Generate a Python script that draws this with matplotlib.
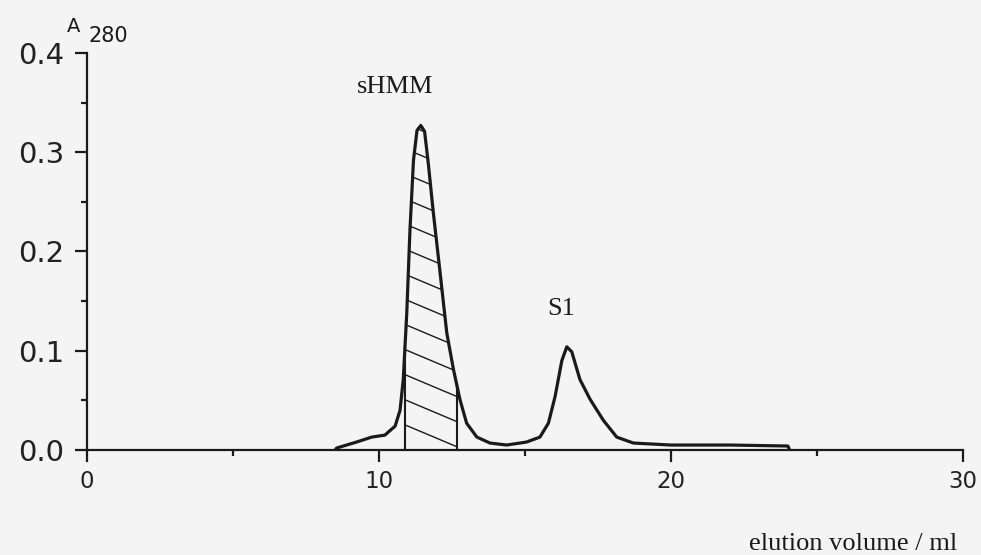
import numpy as np
import matplotlib
matplotlib.use("Agg")
import matplotlib.pyplot as plt
from matplotlib.ticker import MultipleLocator

# elution profile (ml, A280)
volume = [8.5, 8.55, 9.23, 9.75, 10.2, 10.55, 10.72, 10.83, 10.95, 11.06, 11.18,
          11.3, 11.43, 11.56, 11.69, 11.86, 12.09, 12.32, 12.55, 12.77, 13.0,
          13.35, 13.8, 14.37, 15.05, 15.51, 15.8, 16.03, 16.26, 16.43, 16.6,
          16.88, 17.23, 17.68, 18.14, 18.71, 20.0, 22.0, 24.0, 24.05]
a280 = [0.0, 0.002, 0.008, 0.013, 0.015, 0.024, 0.040, 0.071, 0.138, 0.222, 0.292,
        0.322, 0.327, 0.321, 0.288, 0.239, 0.179, 0.118, 0.081, 0.051, 0.027,
        0.013, 0.007, 0.005, 0.008, 0.013, 0.027, 0.054, 0.090, 0.104, 0.099,
        0.071, 0.051, 0.030, 0.013, 0.007, 0.005, 0.005, 0.004, 0.001]

# pooled sHMM fraction
pool_start = 10.89
pool_end = 12.66

x_ticks = [0, 10, 20, 30]
y_ticks = [0.0, 0.1, 0.2, 0.3, 0.4]

bg = "#f4f4f4"
ink = "#1a1a1a"
sans = "DejaVu Sans"
serif = "Liberation Serif"

fig = plt.figure(figsize=(9.81, 5.55), dpi=100, facecolor=bg)
ax = fig.add_axes([0.0887, 0.1892, 0.8930, 0.7153], facecolor=bg)

ax.plot(volume, a280, color=ink, lw=2.3, solid_joinstyle="round",
        solid_capstyle="round", zorder=3)

# hatched pool area, hatch lines clipped to the area under the curve
xs = np.linspace(pool_start, pool_end, 200)
ys = np.interp(xs, volume, a280)
poly = ax.fill_between(xs, 0, ys, facecolor="none", edgecolor="none")
clip = poly.get_paths()[0]
slope = -0.0124
for c in np.arange(0.0, 0.40, 0.0253):
    ln, = ax.plot([pool_start - 0.2, pool_end + 0.2],
                  [c + slope * (-0.2), c + slope * (pool_end - pool_start + 0.2)],
                  color=ink, lw=1.0, zorder=2)
    ln.set_clip_path(clip, ax.transData)
ax.vlines([pool_start, pool_end], 0, np.interp([pool_start, pool_end], volume, a280),
          color=ink, lw=1.5, zorder=2)

ax.set_xlim(0, 30)
ax.set_ylim(0, 0.4)
for s in ["top", "right"]:
    ax.spines[s].set_visible(False)
for s in ["left", "bottom"]:
    ax.spines[s].set_linewidth(1.6)
    ax.spines[s].set_color(ink)

ax.set_xticks(x_ticks)
ax.set_yticks(y_ticks)
ax.set_yticklabels([f"{v:.1f}" for v in y_ticks])
ax.xaxis.set_minor_locator(MultipleLocator(5))
ax.yaxis.set_minor_locator(MultipleLocator(0.05))
ax.tick_params(axis="both", which="major", direction="out", length=8.5, width=1.6,
               color=ink)
ax.tick_params(axis="both", which="minor", direction="out", length=4, width=1.6,
               color=ink)
ax.tick_params(axis="y", labelsize=21, pad=8, labelcolor="#222222")
ax.tick_params(axis="x", labelsize=16.5, pad=6, labelcolor="#222222")
for lab in ax.get_xticklabels() + ax.get_yticklabels():
    lab.set_family(sans)

# annotations
ax.text(10.55, 0.366, "sHMM", family=serif, fontsize=19, ha="center", va="center",
        color=ink)
ax.text(16.25, 0.142, "S1", family=serif, fontsize=19, ha="center", va="center",
        color=ink)
fig.text(853 / 981, 1 - 544 / 555, "elution volume / ml", family=serif, fontsize=19,
         ha="center", va="center", color=ink)
fig.text(74 / 981, 1 - 26 / 555, "A", family=sans, fontsize=14, ha="center",
         va="center", color=ink)
fig.text(108 / 981, 1 - 36 / 555, "280", family=sans, fontsize=15, ha="center",
         va="center", color=ink)

fig.savefig("out.png", dpi=100, facecolor=bg)
